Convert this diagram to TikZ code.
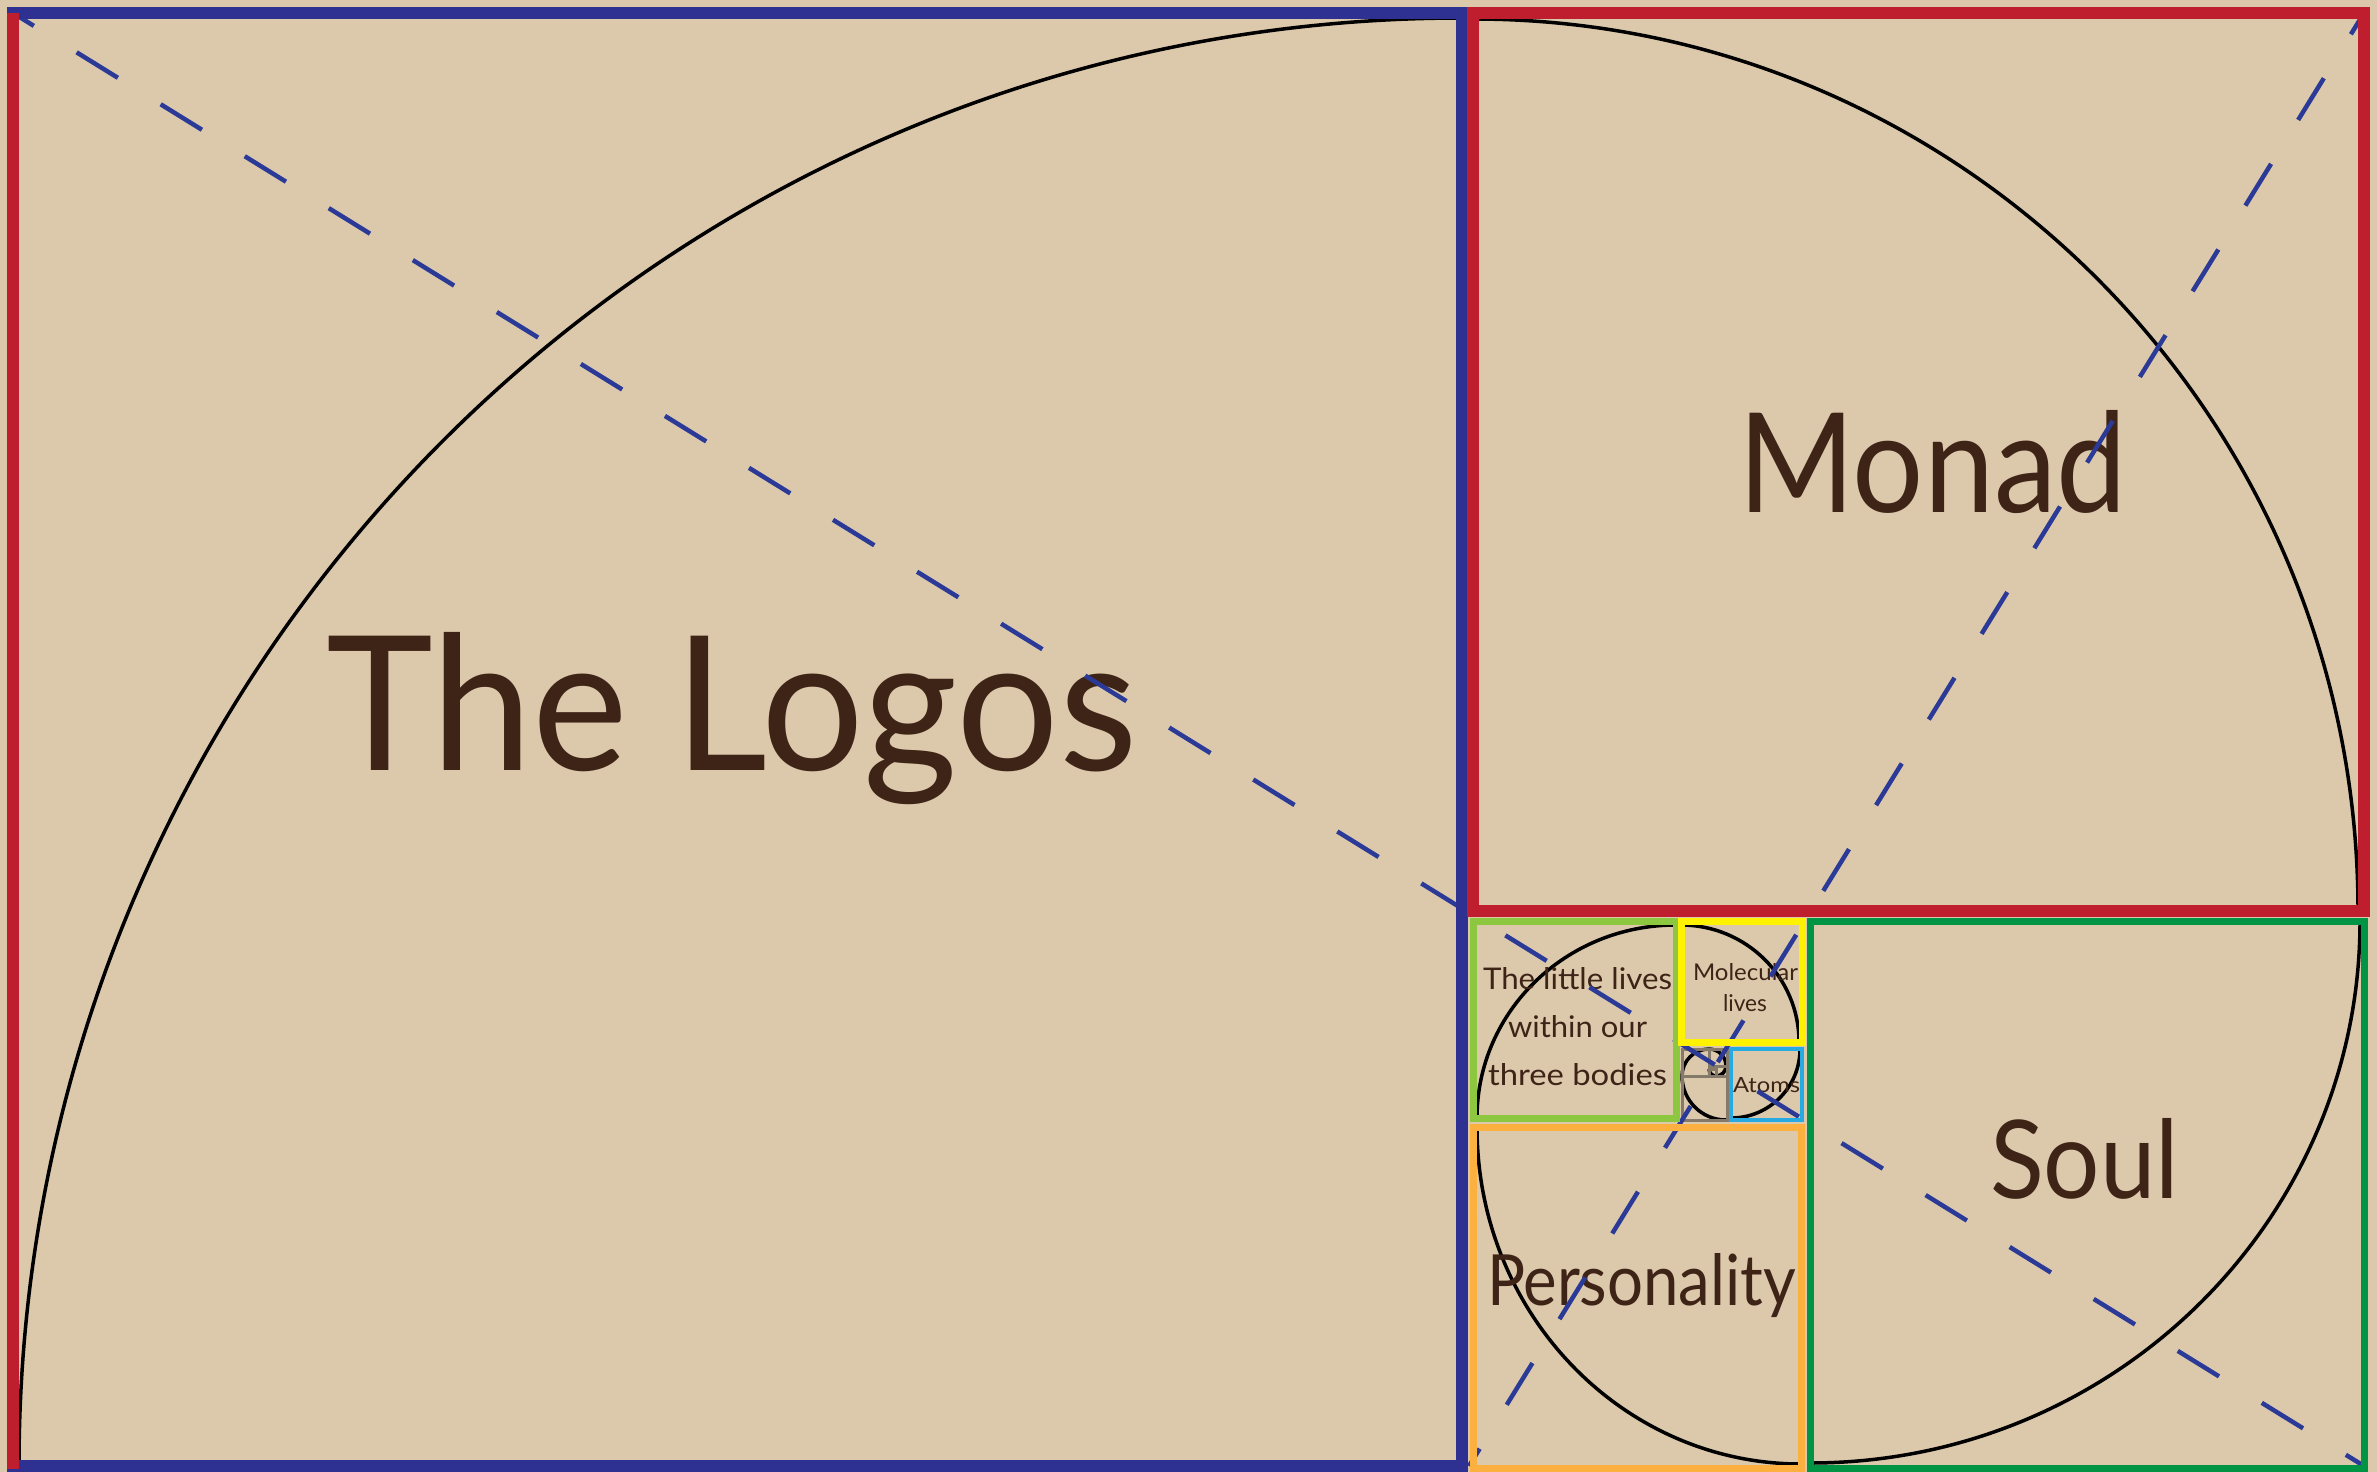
\documentclass[tikz,border=0pt]{standalone}
\usepackage{fontspec}
\setmainfont{Lato}
\usepackage{graphicx}
\definecolor{bgc}{HTML}{DCC9AC}
\definecolor{blueL}{HTML}{2E3192}
\definecolor{redL}{HTML}{BE1E2D}
\definecolor{greenD}{HTML}{009444}
\definecolor{greenL}{HTML}{8DC63F}
\definecolor{yellowL}{HTML}{FFF200}
\definecolor{orangeL}{HTML}{FBB040}
\definecolor{cyanL}{HTML}{27AAE1}
\definecolor{dashc}{HTML}{2B3A96}
\definecolor{textc}{HTML}{3E2317}
\definecolor{grayL}{HTML}{857A6A}
\newcommand\spiralarc[6]{%
  \pgfmathsetmacro\saCAx{#3+0.5523*(#5-#1)}%
  \pgfmathsetmacro\saCAy{#4+0.5523*(#6-#2)}%
  \pgfmathsetmacro\saCBx{#5+0.5523*(#3-#1)}%
  \pgfmathsetmacro\saCBy{#6+0.5523*(#4-#2)}%
  \draw[spiral] (#3,#4) .. controls (\saCAx,\saCAy) and (\saCBx,\saCBy) .. (#5,#6);%
}
\begin{document}
\begin{tikzpicture}[x=1pt,y=-1pt,
  spiral/.style={draw=black,line width=3.5pt},
  diag/.style={draw=dashc,line width=4.5pt,dash pattern=on 48.5pt off 50.3pt,dash phase=24pt},
  diagb/.style={draw=dashc,line width=4.5pt,dash pattern=on 49pt off 51.6pt,dash phase=24pt},
  graysq/.style={draw=grayL,line width=3pt},
  lbl/.style={text=textc,inner sep=0pt,outer sep=0pt,anchor=base west},
  boxthick/.style={line width=12pt},
  boxmid/.style={line width=7pt},
  boxthin/.style={line width=4.5pt}]
\useasboundingbox (0,0) rectangle (2377,1472);
\fill[bgc] (0,0) rectangle (2377,1472);
% spiral arcs
\spiralarc{1462}{1466}{19}{1466}{1462}{18}
\spiralarc{1473}{911}{1473}{19}{2358}{911}
\spiralarc{1810}{921}{2360}{921}{1810}{1463}
\spiralarc{1801}{1127}{1801}{1464}{1477}{1127}
\spiralarc{1676}{1118}{1477}{1118}{1676}{925}
\spiralarc{1681}{1042}{1681}{925}{1799}{1042}
\spiralarc{1731}{1049}{1800}{1049}{1731}{1118}
\spiralarc{1726}{1076}{1726}{1120}{1682}{1076}
\spiralarc{1709}{1076}{1682}{1076}{1709}{1049}
\spiralarc{1709}{1066}{1709}{1049}{1726}{1066}
\spiralarc{1716}{1066}{1726}{1066}{1716}{1076}
\spiralarc{1716}{1069}{1716}{1076}{1709}{1069}
% small gray squares
\draw[graysq] (1682,1076) rectangle (1727,1120);
\draw[graysq] (1682,1049) rectangle (1709,1076);
\draw[graysq] (1709,1049) rectangle (1727,1066);
\draw[graysq] (1716,1066) rectangle (1727,1076);
\draw[graysq] (1709,1069) rectangle (1716,1076);
% labels
\node[lbl] (logos) at (326,770) {\resizebox{811pt}{138pt}{The Logos}};
\node[lbl] (monad) at (1738,512) {\resizebox{389pt}{102pt}{Monad}};
\node[lbl] (soul) at (1990,1198) {\resizebox{189pt}{80pt}{Soul}};
\node[lbl] (pers) at (1487,1305) {\resizebox{309pt}{52pt}{Personality}};
\node[lbl] (lit1) at (1483,989) {\resizebox{189pt}{22pt}{The little lives}};
\node[lbl] (lit2) at (1508,1037) {\resizebox{139pt}{22pt}{within our}};
\node[lbl] (lit3) at (1488,1085) {\resizebox{179pt}{22pt}{three bodies}};
\node[lbl] (mol1) at (1693,980) {\resizebox{105pt}{17pt}{Molecular}};
\node[lbl] (mol2) at (1723,1011) {\resizebox{44pt}{17pt}{lives}};
\node[lbl] (atoms) at (1733,1092) {\resizebox{67pt}{15pt}{Atoms}};
% diagonals
\draw[diag] (13,13) -- (2364,1466);
\draw[diagb] (2364,13) -- (1469,1466);
% coloured squares
\draw[blueL,boxthick] (13,13) rectangle (1462,1466);
\draw[redL,boxthick] (13,13) -- (13,1469);
\draw[redL,boxthick] (1473,13) rectangle (2364,911);
\draw[greenD,boxmid] (1810,921) rectangle (2364,1468);
\draw[orangeL,boxmid] (1473,1127) rectangle (1801,1468);
\draw[greenL,boxmid] (1473,921) rectangle (1676,1118);
\draw[yellowL,boxmid] (1681,921) rectangle (1802,1042);
\draw[cyanL,boxthin] (1731,1049) rectangle (1802,1120);
\end{tikzpicture}
\end{document}
